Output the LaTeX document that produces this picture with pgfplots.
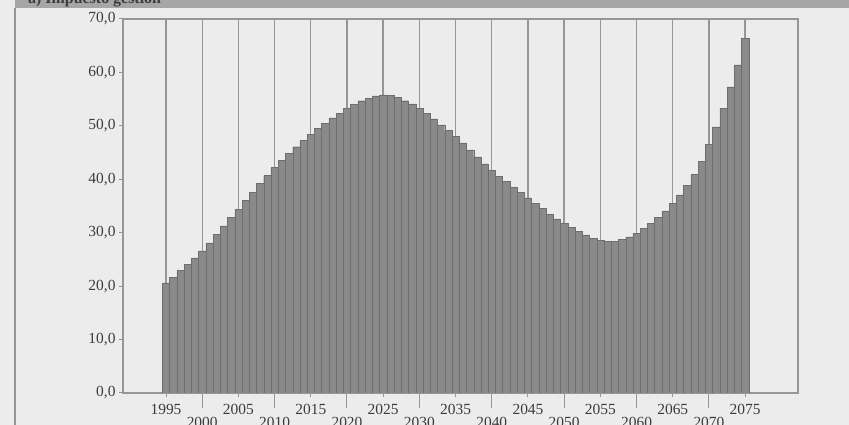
\documentclass[border=0pt]{standalone}
\usepackage{pgfplots}
\usepackage{pgfplotstable}
\pgfplotsset{compat=1.18}
\usepackage{fontspec}
\setmainfont{Liberation Serif}
\definecolor{bg}{HTML}{ECECEC}
\definecolor{barc}{HTML}{8A8A8A}
\definecolor{gridc}{HTML}{969696}
\definecolor{txt}{HTML}{3C3C3C}
\definecolor{band}{HTML}{A6A6A6}

\pgfplotstableread{
year val
1995 20.6
1996 21.7
1997 22.9
1998 24.1
1999 25.3
2000 26.6
2001 28.1
2002 29.7
2003 31.3
2004 32.9
2005 34.4
2006 36.0
2007 37.6
2008 39.2
2009 40.7
2010 42.2
2011 43.6
2012 44.9
2013 46.1
2014 47.3
2015 48.4
2016 49.5
2017 50.5
2018 51.5
2019 52.4
2020 53.3
2021 54.0
2022 54.7
2023 55.2
2024 55.6
2025 55.8
2026 55.7
2027 55.3
2028 54.7
2029 54.1
2030 53.3
2031 52.3
2032 51.3
2033 50.2
2034 49.1
2035 48.0
2036 46.8
2037 45.5
2038 44.2
2039 42.9
2040 41.7
2041 40.6
2042 39.6
2043 38.5
2044 37.5
2045 36.5
2046 35.5
2047 34.5
2048 33.5
2049 32.6
2050 31.8
2051 31.0
2052 30.2
2053 29.6
2054 29.0
2055 28.6
2056 28.4
2057 28.4
2058 28.7
2059 29.2
2060 29.9
2061 30.8
2062 31.8
2063 32.9
2064 34.1
2065 35.5
2066 37.1
2067 38.9
2068 40.9
2069 43.4
2070 46.5
2071 49.8
2072 53.3
2073 57.3
2074 61.4
2075 66.4
}\data

\begin{document}
\begin{tikzpicture}
\useasboundingbox (0,0) rectangle (849bp,425bp);
\clip (0,0) rectangle (849bp,425bp);
\fill[bg] (0,0) rectangle (849bp,425bp);
\fill[band] (15bp,417bp) rectangle (849bp,425bp);
\node[anchor=south west, font=\fontsize{16}{18}\selectfont\bfseries, text=txt, inner sep=0] at (28bp,418bp) {a) Impuesto gestión};
\draw[gridc, line width=1.2bp] (15bp,0) -- (15bp,417bp);
\begin{axis}[
  at={(123bp,32bp)}, anchor=south west,
  width=675bp, height=374bp, scale only axis,
  xmin=1989.06, xmax=2082.3, ymin=0, ymax=70,
  axis background/.style={fill=bg},
  axis line style={gridc, line width=1.2bp},
  ybar, bar width=1,
  xtick={1995,2005,...,2075},
  xticklabels={1995,2005,2015,2025,2035,2045,2055,2065,2075},
  extra x ticks={2000,2010,...,2070},
  extra x tick labels={2000,2010,2020,2030,2040,2050,2060,2070},
  extra x tick style={major tick length=15bp, grid=major,
     tick label style={yshift=-2bp}},
  xmajorgrids=true,
  major grid style={gridc, line width=1.4bp},
  x tick style={gridc, line width=1bp},
  y tick style={gridc, line width=1bp},
  xtick pos=bottom, ytick pos=left,
  xtick align=outside, ytick align=outside,
  major tick length=4bp,
  ytick={0,10,...,70},
  yticklabel style={/pgf/number format/.cd, fixed, fixed zerofill, precision=1, use comma, assume math mode=true},
  tick label style={font=\fontsize{15.5}{17}\selectfont, text=txt},
  xticklabel style={yshift=-4bp},
]
\addplot[fill=barc, draw=barc!80!black, line width=0.35bp] table[x=year, y=val] {\data};
\end{axis}
\end{tikzpicture}
\end{document}
